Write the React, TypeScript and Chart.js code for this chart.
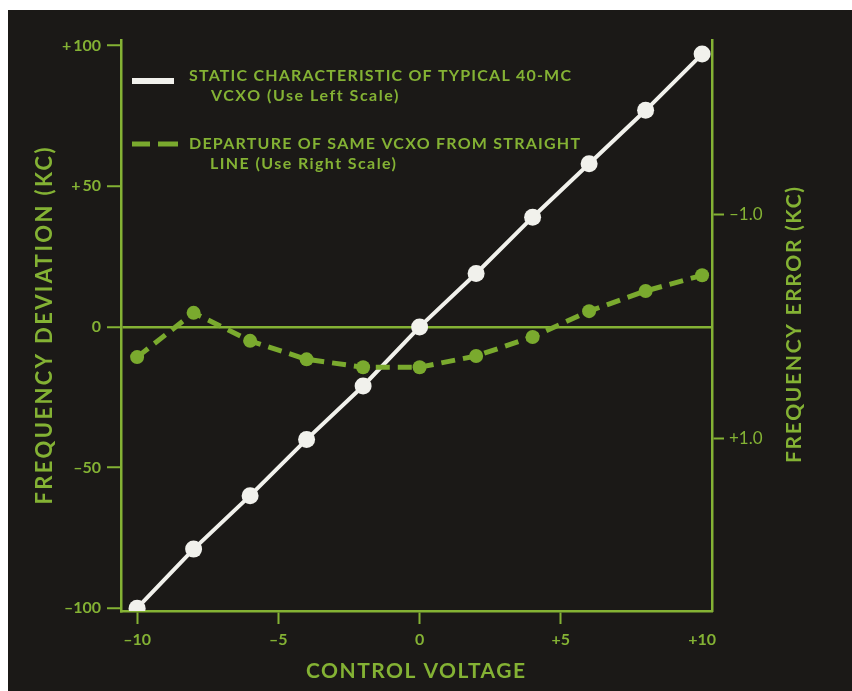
import { useEffect, useRef } from 'react';
import { Chart, registerables } from 'chart.js';

Chart.register(...registerables);

// ---- data ----
const voltages = [-10, -8, -6, -4, -2, 0, 2, 4, 6, 8, 10];
const deviationKc = [-100, -79, -60, -40, -21, 0, 19, 39, 58, 77, 97];
const errorKc = [0.27, -0.125, 0.125, 0.29, 0.36, 0.36, 0.26, 0.09, -0.14, -0.32, -0.46];
const xTickValues = [-10, -5, 0, 5, 10];
const leftTickValues = [-100, -50, 0, 50, 100];
const rightTickValues = [-1, 1];
const legendLabels = [
  ['STATIC CHARACTERISTIC OF TYPICAL 40-MC', 'VCXO (Use Left Scale)'],
  ['DEPARTURE OF SAME VCXO FROM STRAIGHT', 'LINE (Use Right Scale)'],
];
const xTitle = 'CONTROL VOLTAGE';
const leftTitle = 'FREQUENCY DEVIATION (KC)';
const rightTitle = 'FREQUENCY ERROR (KC)';

// ---- style ----
const BG = '#1b1917';
const GREEN = '#84b234';
const LINE_GREEN = '#7aaa2e';
const WHITE = '#f1f1ec';
const FONT = 'Lato, "Open Sans", "DejaVu Sans", sans-serif';
const TRANSPARENT = 'rgba(0,0,0,0)';

const signed = (v: number, digits = 0) => {
  const s = Math.abs(v).toFixed(digits);
  if (v > 0) return '+' + s;
  if (v < 0) return '\u2013' + s;
  return '0';
};

function drawFit(
  ctx: CanvasRenderingContext2D,
  text: string,
  left: number,
  centerY: number,
  width: number,
  size: number,
  weight = 'bold'
) {
  ctx.font = `${weight} ${size}px ${FONT}`;
  (ctx as any).letterSpacing = '0px';
  const w = ctx.measureText(text).width;
  const ls = (width - w) / Math.max(text.length - 1, 1);
  (ctx as any).letterSpacing = `${ls}px`;
  ctx.textAlign = 'left';
  ctx.textBaseline = 'alphabetic';
  ctx.fillText(text, left, centerY + size * 0.36);
  (ctx as any).letterSpacing = '0px';
}

const decorPlugin = {
  id: 'decor',
  afterDraw(chart: any) {
    const ctx: CanvasRenderingContext2D = chart.ctx;
    ctx.save();
    ctx.fillStyle = GREEN;

    // x title
    drawFit(ctx, xTitle, 407.5 - 109.5, 660, 219, 21);

    // left title (bottom to top)
    ctx.save();
    ctx.translate(36, 316);
    ctx.rotate(-Math.PI / 2);
    drawFit(ctx, leftTitle, -178.5, 0, 357, 22);
    ctx.restore();

    // right title (bottom to top)
    ctx.save();
    ctx.translate(785, 315);
    ctx.rotate(-Math.PI / 2);
    drawFit(ctx, rightTitle, -138, 0, 276, 21);
    ctx.restore();

    // legend samples
    ctx.lineCap = 'butt';
    ctx.strokeStyle = WHITE;
    ctx.lineWidth = 6;
    ctx.beginPath();
    ctx.moveTo(124, 71);
    ctx.lineTo(166, 71);
    ctx.stroke();

    ctx.strokeStyle = LINE_GREEN;
    ctx.lineWidth = 5;
    ctx.beginPath();
    ctx.moveTo(124, 134);
    ctx.lineTo(142, 134);
    ctx.moveTo(150, 134);
    ctx.lineTo(170, 134);
    ctx.stroke();

    // legend text
    ctx.fillStyle = GREEN;
    drawFit(ctx, legendLabels[0][0], 181, 65.5, 382, 16);
    drawFit(ctx, legendLabels[0][1], 203, 85, 187, 16);
    drawFit(ctx, legendLabels[1][0], 181, 133, 391, 16);
    drawFit(ctx, legendLabels[1][1], 202, 153, 186, 16);

    ctx.restore();
  },
};

export default function App() {
  const ref = useRef<HTMLCanvasElement>(null);

  useEffect(() => {
    const canvas = ref.current;
    if (!canvas) return;
    const tickFont = { family: FONT, size: 16, weight: 'bold' as const };
    const chart = new Chart(canvas, {
      type: 'line',
      data: {
        datasets: [
          {
            label: 'Departure of same VCXO from straight line',
            data: voltages.map((x, i) => ({ x, y: errorKc[i] })),
            yAxisID: 'y1',
            borderColor: LINE_GREEN,
            backgroundColor: LINE_GREEN,
            borderWidth: 5,
            borderDash: [14, 8],
            pointRadius: 7,
            pointBorderWidth: 0,
            pointBackgroundColor: LINE_GREEN,
            tension: 0,
            order: 0,
          },
          {
            label: 'Static characteristic of typical 40-MC VCXO',
            data: voltages.map((x, i) => ({ x, y: deviationKc[i] })),
            yAxisID: 'y',
            borderColor: WHITE,
            backgroundColor: WHITE,
            borderWidth: 4,
            pointRadius: 8.5,
            pointBorderWidth: 0,
            pointBackgroundColor: WHITE,
            tension: 0,
            order: 1,
          },
        ],
      },
      options: {
        animation: false,
        responsive: false,
        devicePixelRatio: 1,
        layout: { padding: { top: 30, left: 0, right: 0, bottom: 0 } },
        plugins: {
          legend: { display: false },
          tooltip: { enabled: false },
        },
        scales: {
          x: {
            type: 'linear',
            position: 'bottom',
            min: -10.57,
            max: 10.35,
            z: 1,
            border: { display: true, color: GREEN, width: 2.5 },
            grid: {
              drawOnChartArea: false,
              drawTicks: true,
              tickLength: 13,
              tickWidth: 2,
              color: TRANSPARENT,
              tickColor: (c: any) => (c.tick && c.tick.value === 10 ? TRANSPARENT : GREEN),
            },
            ticks: {
              color: GREEN,
              font: tickFont,
              padding: 6,
              maxRotation: 0,
              autoSkip: false,
              callback: (v: any) => signed(Number(v)),
            },
            afterBuildTicks: (s: any) => {
              s.ticks = xTickValues.map((value) => ({ value }));
            },
            afterFit: (s: any) => {
              s.height = 80;
            },
          },
          y: {
            type: 'linear',
            position: 'left',
            min: -101,
            max: 102,
            border: { display: true, color: GREEN, width: 2.5 },
            grid: {
              drawOnChartArea: true,
              drawTicks: true,
              tickLength: 14,
              tickWidth: 2,
              lineWidth: 2.5,
              color: (c: any) => (c.tick && c.tick.value === 0 ? GREEN : TRANSPARENT),
              tickColor: GREEN,
            },
            ticks: {
              color: GREEN,
              font: tickFont,
              padding: 6,
              autoSkip: false,
              callback: (v: any) => {
                const n = Number(v);
                if (n > 0) return '+\u2009' + n;
                if (n < 0) return '\u2013' + Math.abs(n);
                return '0';
              },
            },
            afterBuildTicks: (s: any) => {
              s.ticks = leftTickValues.map((value) => ({ value }));
            },
            afterFit: (s: any) => {
              s.width = 113;
            },
          },
          y1: {
            type: 'linear',
            position: 'right',
            reverse: true,
            min: -2.56,
            max: 2.536,
            border: { display: true, color: GREEN, width: 2.5 },
            grid: {
              drawOnChartArea: false,
              drawTicks: true,
              tickLength: 12,
              tickWidth: 2,
              color: TRANSPARENT,
              tickColor: GREEN,
            },
            ticks: {
              color: GREEN,
              font: { family: FONT, size: 17, weight: 'normal' as const },
              padding: 5,
              autoSkip: false,
              callback: (v: any) => signed(Number(v), 1),
            },
            afterBuildTicks: (s: any) => {
              s.ticks = rightTickValues.map((value) => ({ value }));
            },
            afterFit: (s: any) => {
              s.width = 140;
            },
          },
        },
      },
      plugins: [decorPlugin],
    });
    return () => chart.destroy();
  }, []);

  return (
    <div
      style={{
        position: 'fixed',
        left: 8,
        top: 10,
        width: 844,
        height: 681,
        background: BG,
      }}
    >
      <canvas ref={ref} width={844} height={681} style={{ display: 'block', width: 844, height: 681 }} />
    </div>
  );
}
